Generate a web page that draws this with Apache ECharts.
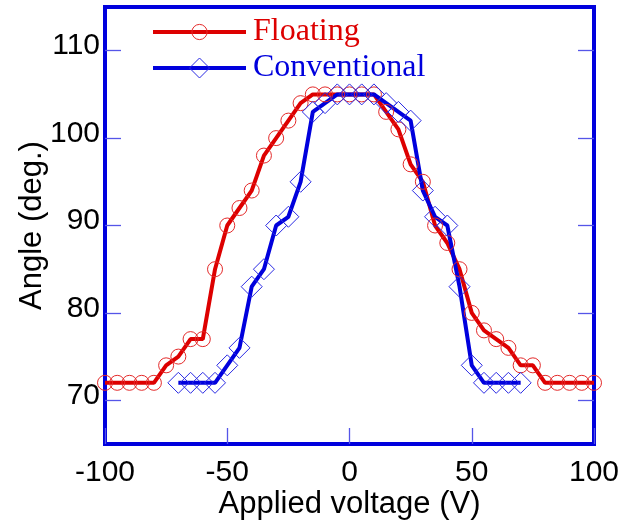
<!DOCTYPE html>
<html>
<head>
<meta charset="utf-8">
<script src="https://cdn.jsdelivr.net/npm/echarts@6/dist/echarts.min.js"></script>
<style>
html,body{margin:0;padding:0;background:#fff;}
#chart{width:623px;height:525px;}
</style>
</head>
<body>
<div id="chart"></div>
<script>
const voltageFloating = [-100,-95,-90,-85,-80,-75,-70,-65,-60,-55,-50,-45,-40,-35,-30,-25,-20,-15,-10,-5,0,5,10,15,20,25,30,35,40,45,50,55,60,65,70,75,80,85,90,95,100];
const angleFloating = [72,72,72,72,72,74,75,77,77,85,90,92,94,98,100,102,104,105,105,105,105,105,105,103,101,97,95,90,88,85,80,78,77,76,74,74,72,72,72,72,72];
const voltageConventional = [-70,-65,-60,-55,-50,-45,-40,-35,-30,-25,-20,-15,-10,-5,0,5,10,15,20,25,30,35,40,45,50,55,60,65,70];
const angleConventional = [72,72,72,72,74,76,83,85,90,91,95,103,104,105,105,105,105,104,103,102,94,91,90,83,74,72,72,72,72];
const yTicks = [70,80,90,100,110];
const seriesNames = ['Floating','Conventional'];

const RED = '#dd0000', RED_M = '#e42a2a';
const BLUE = '#0000dd', BLUE_M = '#2a2ae4';
const FRAME = '#0000dd', TICK = '#5555e8';

const chart = echarts.init(document.getElementById('chart'), null, {renderer:'canvas'});
const pairs = (xs, ys) => xs.map((x,i)=>[x, ys[i]]);

const tickStyle = {show:true, inside:true, length:16, lineStyle:{color:TICK, width:1.3}};
const serif = 'Liberation Serif, Times New Roman, serif';
const sans = 'Liberation Sans, Arial, sans-serif';

chart.setOption({
  animation:false,
  backgroundColor:'#fff',
  grid:{left:105, right:29, top:7, bottom:81, show:true, borderColor:FRAME, borderWidth:4, backgroundColor:'#fff',
        containLabel:false, outerBoundsMode:'none'},
  legend:[
    {data:[seriesNames[0]], left:151, top:16, padding:0, itemWidth:93, itemHeight:19,
     itemStyle:{color:'rgba(0,0,0,0)', borderColor:RED_M, borderWidth:1},
     lineStyle:{color:RED, width:4},
     textStyle:{color:RED, fontFamily:serif, fontSize:32, padding:[8,0,0,2]}},
    {data:[seriesNames[1]], left:151, top:52, padding:0, itemWidth:93, itemHeight:25,
     itemStyle:{color:'rgba(0,0,0,0)', borderColor:BLUE_M, borderWidth:1},
     lineStyle:{color:BLUE, width:4},
     textStyle:{color:BLUE, fontFamily:serif, fontSize:32, padding:[8,0,0,2]}}
  ],
  xAxis:{
    type:'value', min:-100, max:100, interval:50,
    axisLine:{show:false, onZero:false}, splitLine:{show:false},
    axisTick:tickStyle,
    axisLabel:{color:'#000', fontFamily:sans, fontSize:30, margin:14, showMinLabel:true, showMaxLabel:true},
    name:'Applied voltage (V)', nameLocation:'middle', nameGap:45, nameMoveOverlap:false,
    nameTextStyle:{color:'#000', fontFamily:sans, fontSize:31}
  },
  yAxis:[
    {type:'value', min:65, max:115, position:'left',
     axisLine:{show:false, onZero:false}, splitLine:{show:false},
     axisTick:Object.assign({customValues:yTicks}, tickStyle),
     axisLabel:{customValues:yTicks, color:'#000', fontFamily:sans, fontSize:30, margin:5, verticalAlign:'bottom', lineHeight:9},
     name:'Angle (deg.)', nameLocation:'middle', nameGap:57, nameMoveOverlap:false,
     nameTextStyle:{color:'#000', fontFamily:sans, fontSize:31}},
    {type:'value', min:65, max:115, position:'right',
     axisLine:{show:false, onZero:false}, splitLine:{show:false},
     axisTick:Object.assign({customValues:yTicks}, tickStyle),
     axisLabel:{show:false}}
  ],
  series:[
    {name:seriesNames[0], type:'line', yAxisIndex:0, data:pairs(voltageFloating, angleFloating),
     symbol:'circle', symbolSize:15, showAllSymbol:true,
     lineStyle:{color:RED, width:4},
     itemStyle:{color:'rgba(0,0,0,0)', borderColor:RED_M, borderWidth:1}},
    {name:seriesNames[1], type:'line', yAxisIndex:0, data:pairs(voltageConventional, angleConventional),
     symbol:'diamond', symbolSize:21, showAllSymbol:true,
     lineStyle:{color:BLUE, width:4},
     itemStyle:{color:'rgba(0,0,0,0)', borderColor:BLUE_M, borderWidth:1}}
  ]
});
</script>
</body>
</html>
